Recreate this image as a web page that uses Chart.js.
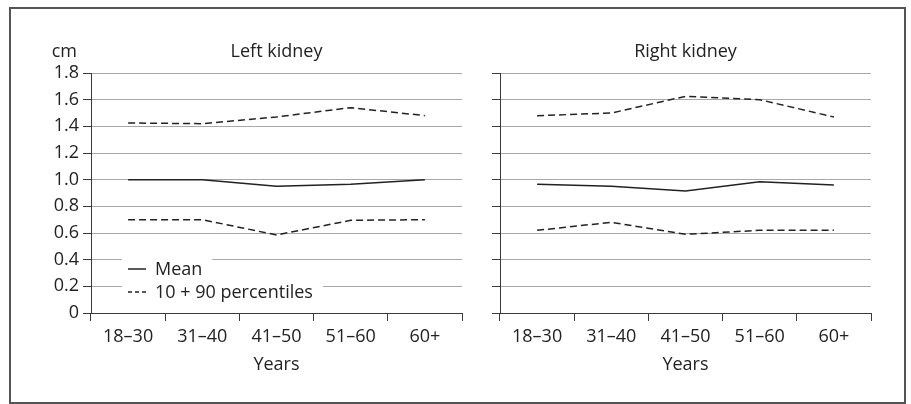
<!DOCTYPE html>
<html>
<head>
<meta charset="utf-8">
<script src="https://cdn.jsdelivr.net/npm/chart.js@4/dist/chart.umd.min.js"></script>
<style>
  html, body { margin: 0; padding: 0; background: #fff; }
  #page { position: relative; width: 911px; height: 404px; overflow: hidden; }
  .panel { position: absolute; top: 0; height: 404px; }
  #left { left: 0; width: 480px; }
  #right { left: 480px; width: 431px; }
  #frame { position: absolute; left: 9px; top: 7px; width: 897px; height: 397px;
           border: 2px solid #555; box-sizing: border-box; pointer-events: none; }
</style>
</head>
<body>
<div id="page">
  <div class="panel" id="left"><canvas id="leftChart"></canvas></div>
  <div class="panel" id="right"><canvas id="rightChart"></canvas></div>
  <div id="frame"></div>
</div>
<script>
  // values (cm)
  var ageGroups = ["18–30", "31–40", "41–50", "51–60", "60+"];
  var leftP90 = [1.425, 1.42, 1.47, 1.54, 1.48];
  var leftMean = [1.0, 1.0, 0.95, 0.965, 1.0];
  var leftP10 = [0.70, 0.70, 0.585, 0.695, 0.70];
  var rightP90 = [1.48, 1.50, 1.625, 1.60, 1.47];
  var rightMean = [0.965, 0.95, 0.915, 0.985, 0.96];
  var rightP10 = [0.62, 0.68, 0.59, 0.62, 0.62];
  var yTickLabels = ["0", "0.2", "0.4", "0.6", "0.8", "1.0", "1.2", "1.4", "1.6", "1.8"];

  var FONT = "Open Sans";
  var INK = "#222";
  var AXIS = "#3a3a3a";
  var GRID = "#a8a8a8";

  // panel title (+ optional unit label) drawn above the plot
  var panelText = {
    id: "panelText",
    afterDraw: function (chart, _args, opts) {
      if (!opts || !opts.title) return;
      var ctx = chart.ctx, area = chart.chartArea;
      ctx.save();
      ctx.font = "18px '" + FONT + "'";
      ctx.fillStyle = INK;
      ctx.textBaseline = "alphabetic";
      ctx.textAlign = "center";
      ctx.fillText(opts.title, (area.left + area.right) / 2, 57);
      if (opts.unit) {
        ctx.textAlign = "right";
        ctx.fillText(opts.unit, area.left - 14, 57);
      }
      ctx.restore();
    },
  };

  // in-plot legend: each row has its own white backing
  var innerLegend = {
    id: "innerLegend",
    beforeDatasetsDraw: function (chart, _args, opts) {
      if (!opts || !opts.rows) return;
      var ctx = chart.ctx;
      var x0 = chart.chartArea.left + 31;
      ctx.save();
      ctx.font = "18px '" + FONT + "'";
      opts.rows.forEach(function (row) {
        var w = ctx.measureText(row.text).width;
        ctx.fillStyle = "#fff";
        ctx.fillRect(x0, row.y - 11, 33 + w + 10, 22);
        ctx.strokeStyle = INK;
        ctx.lineWidth = 1.5;
        ctx.setLineDash(row.dash);
        ctx.beginPath();
        ctx.moveTo(x0 + 6, row.y);
        ctx.lineTo(x0 + 24, row.y);
        ctx.stroke();
        ctx.setLineDash([]);
        ctx.fillStyle = INK;
        ctx.textAlign = "left";
        ctx.textBaseline = "middle";
        ctx.fillText(row.text, x0 + 33, row.y + 1);
      });
      ctx.restore();
    },
  };
  Chart.register(panelText, innerLegend);

  function series(label, data, dashed) {
    return {
      label: label,
      data: data,
      borderColor: INK,
      borderWidth: 1.5,
      borderDash: dashed ? [7, 4] : [],
      pointRadius: 0,
      tension: 0,
      fill: false,
    };
  }

  function buildPanel(canvas, title, p90, mean, p10, opt) {
    return new Chart(canvas, {
      type: "line",
      data: {
        labels: ageGroups,
        datasets: [
          series("90th percentile", p90, true),
          series("Mean", mean, false),
          series("10th percentile", p10, true),
        ],
      },
      options: {
        responsive: true,
        maintainAspectRatio: false,
        animation: false,
        layout: { padding: { left: 0, right: opt.padRight, top: 73, bottom: 0 } },
        plugins: {
          legend: { display: false },
          tooltip: { enabled: false },
          panelText: { title: title, unit: opt.unit },
          innerLegend: { rows: opt.legendRows },
        },
        scales: {
          x: {
            type: "category",
            offset: true,
            grid: { offset: true, drawOnChartArea: false, drawTicks: true, tickLength: 8, tickColor: AXIS, tickWidth: 1 },
            border: { color: AXIS, width: 1 },
            ticks: { color: INK, padding: 5, font: { family: FONT, size: 18 }, maxRotation: 0 },
            title: { display: true, text: "Years", color: INK, font: { family: FONT, size: 18 }, padding: { top: 0, bottom: 28 } },
            afterFit: function (scale) { scale.height = 91; },
          },
          y: {
            min: 0,
            max: 1.8,
            grid: {
              color: function (c) { return c.tick && c.tick.value === 0 ? "rgba(0,0,0,0)" : GRID; },
              lineWidth: 1,
              tickLength: 8,
              tickColor: AXIS,
              tickWidth: 1,
            },
            border: { color: AXIS, width: 1 },
            ticks: {
              display: opt.showYLabels,
              stepSize: 0.2,
              padding: 4,
              color: INK,
              font: { family: FONT, size: 18 },
              callback: function (_v, i) { return yTickLabels[i]; },
            },
            afterFit: function (scale) { scale.width = opt.axisWidth; },
          },
        },
      },
    });
  }

  buildPanel(document.getElementById("leftChart"), "Left kidney", leftP90, leftMean, leftP10, {
    padRight: 18, axisWidth: 91, showYLabels: true, unit: "cm",
    legendRows: [
      { text: "Mean", y: 269, dash: [] },
      { text: "10 + 90 percentiles", y: 292, dash: [4, 3] },
    ],
  });
  buildPanel(document.getElementById("rightChart"), "Right kidney", rightP90, rightMean, rightP10, {
    padRight: 40, axisWidth: 20, showYLabels: false, unit: null, legendRows: null,
  });
</script>
</body>
</html>
